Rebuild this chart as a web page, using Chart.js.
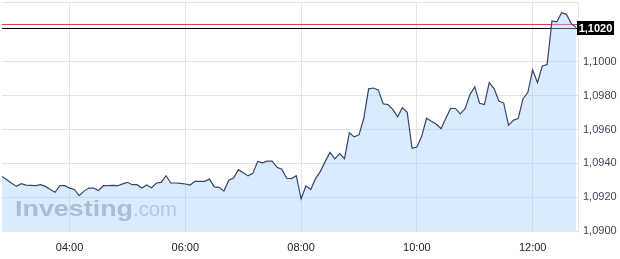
<!DOCTYPE html>
<html><head><meta charset="utf-8">
<script src="https://cdn.jsdelivr.net/npm/chart.js@4/dist/chart.umd.min.js"></script>
<style>html,body{margin:0;padding:0;background:#fff;}#wrap{width:620px;height:259px;position:relative}</style>
</head><body><div id="wrap"><canvas id="c" width="620" height="259"></canvas></div>
<script>
const times = [
 '02:50','02:55',
 '03:00','03:05','03:10','03:15','03:20','03:25','03:30','03:35','03:40','03:45','03:50','03:55',
 '04:00','04:05','04:10','04:15','04:20','04:25','04:30','04:35','04:40','04:45','04:50','04:55',
 '05:00','05:05','05:10','05:15','05:20','05:25','05:30','05:35','05:40','05:45','05:50','05:55',
 '06:00','06:05','06:10','06:15','06:20','06:25','06:30','06:35','06:40','06:45','06:50','06:55',
 '07:00','07:05','07:10','07:15','07:20','07:25','07:30','07:35','07:40','07:45','07:50','07:55',
 '08:00','08:05','08:10','08:15','08:20','08:25','08:30','08:35','08:40','08:45','08:50','08:55',
 '09:00','09:05','09:10','09:15','09:20','09:25','09:30','09:35','09:40','09:45','09:50','09:55',
 '10:00','10:05','10:10','10:15','10:20','10:25','10:30','10:35','10:40','10:45','10:50','10:55',
 '11:00','11:05','11:10','11:15','11:20','11:25','11:30','11:35','11:40','11:45','11:50','11:55',
 '12:00','12:05','12:10','12:15','12:20','12:25','12:30','12:35','12:40','12:45'
];
const prices = [
 1.09323,1.09303,
 1.09282,1.09264,1.09280,1.09272,1.09270,1.09268,1.09274,1.09264,1.09246,1.09229,1.09268,1.09268,
 1.09254,1.09246,1.09209,1.09236,1.09254,1.09254,1.09239,1.09268,1.09268,1.09270,1.09268,1.09279,
 1.09288,1.09274,1.09274,1.09254,1.09272,1.09256,1.09284,1.09288,1.09327,1.09284,1.09284,1.09282,
 1.09278,1.09272,1.09294,1.09294,1.09294,1.09307,1.09261,1.09258,1.09236,1.09300,1.09314,1.09363,
 1.09344,1.09326,1.09341,1.09412,1.09403,1.09413,1.09414,1.09377,1.09365,1.09312,1.09310,1.09327,
 1.09190,1.09266,1.09245,1.09310,1.09353,1.09412,1.09465,1.09427,1.09458,1.09428,1.09581,1.09557,
 1.09569,1.09667,1.09841,1.09846,1.09835,1.09753,1.09748,1.09720,1.09676,1.09729,1.09702,1.09489,
 1.09497,1.09560,1.09667,1.09649,1.09633,1.09605,1.09667,1.09726,1.09725,1.09693,1.09724,1.09807,
 1.09853,1.09756,1.09748,1.09878,1.09843,1.09769,1.09757,1.09625,1.09655,1.09665,1.09783,1.09819,
 1.09953,1.09878,1.09976,1.09985,1.10243,1.10237,1.10292,1.10282,1.10227,1.10205
];
const xTickLabels = ['04:00','06:00','08:00','10:00','12:00'];
const yTickValues = [1.0900,1.0920,1.0940,1.0960,1.0980,1.1000,1.1020];
const currentPrice = 1.1020;
const refPrice = 1.10222;
const xRange = ['02:50','12:47'];
const yRange = [1.0900, 1.10355];

function toMin(s){const p=s.split(':').map(Number);return p[0]*60+p[1];}
function fmtPrice(v){return v.toFixed(4).replace('.',',');}

const gridColor = '#e2e4ea';
const points = times.map((t,i)=>({x:toMin(t), y:prices[i]}));

const overlay = {
  id:'overlay',
  beforeDatasetsDraw(chart){
    const {ctx, chartArea:a, scales:{y}} = chart;
    ctx.save();
    ctx.strokeStyle = gridColor; ctx.lineWidth = 1;
    ctx.beginPath(); ctx.moveTo(a.left, a.top+0.5); ctx.lineTo(a.right, a.top+0.5); ctx.stroke();
    // watermark
    ctx.textBaseline = 'alphabetic';
    ctx.font = 'bold 22px "Liberation Sans", Arial, sans-serif';
    let w = ctx.measureText('Investing').width;
    ctx.save(); ctx.translate(15, 216); ctx.scale(118/w, 1);
    ctx.fillStyle = 'rgb(172,180,192)';
    ctx.fillText('Investing', 0, 0); ctx.restore();
    ctx.font = '20px "Liberation Sans", Arial, sans-serif';
    w = ctx.measureText('.com').width;
    ctx.save(); ctx.translate(133, 216); ctx.scale(44/w, 1);
    ctx.fillStyle = 'rgb(190,198,210)';
    ctx.fillText('.com', 0, 0); ctx.restore();
    // reference lines
    const yr = Math.round(y.getPixelForValue(refPrice))+0.5;
    ctx.strokeStyle = '#e0403c'; ctx.lineWidth = 1;
    ctx.beginPath(); ctx.moveTo(a.left, yr); ctx.lineTo(a.right, yr); ctx.stroke();
    const yc = Math.round(y.getPixelForValue(currentPrice))+0.5;
    ctx.strokeStyle = '#000'; ctx.lineWidth = 1.2;
    ctx.beginPath(); ctx.moveTo(a.left, yc); ctx.lineTo(a.right, yc); ctx.stroke();
    ctx.restore();
  },
  afterDatasetsDraw(chart){
    const {ctx, chartArea:a, scales:{y}} = chart;
    ctx.save();
    const yc = Math.round(y.getPixelForValue(currentPrice));
    ctx.fillStyle = '#000';
    ctx.fillRect(a.right-1, yc-7, 37, 14);
    ctx.fillStyle = '#fff';
    ctx.font = 'bold 11px "Liberation Sans", Arial, sans-serif';
    ctx.textAlign = 'center'; ctx.textBaseline = 'middle';
    ctx.fillText(fmtPrice(currentPrice), a.right-1+18.5, yc+0.5);
    ctx.restore();
  }
};

new Chart(document.getElementById('c'), {
  type:'line',
  data:{datasets:[{
    data: points,
    borderColor:'#3a4466',
    borderWidth:1.2,
    backgroundColor:'rgba(160,205,250,0.4)',
    fill:'start',
    pointRadius:0,
    tension:0
  }]},
  options:{
    responsive:false,
    devicePixelRatio:1,
    animation:false,
    layout:{padding:{left:2, top:2, right:0, bottom:0}},
    plugins:{legend:{display:false}, tooltip:{enabled:false}},
    scales:{
      x:{
        type:'linear', position:'bottom',
        min: toMin(xRange[0]), max: toMin(xRange[1]),
        afterBuildTicks(s){ s.ticks = xTickLabels.map(l=>({value:toMin(l)})); },
        afterFit(s){ s.height = 28; s.paddingLeft = 0; s.paddingRight = 0; },
        ticks:{
          callback:(v,i)=>xTickLabels[i],
          color:'#222', font:{family:'"Liberation Sans", Arial, sans-serif', size:11},
          padding:10, maxRotation:0, autoSkip:false
        },
        grid:{color:gridColor, drawTicks:false},
        border:{display:true, color:gridColor}
      },
      y:{
        type:'linear', position:'right',
        min: yRange[0], max: yRange[1],
        afterBuildTicks(s){ s.ticks = yTickValues.map(v=>({value:v})); },
        afterFit(s){ s.width = 42; s.paddingTop = 0; s.paddingBottom = 0; },
        ticks:{
          callback:(v)=> Math.abs(v-currentPrice)<1e-6 ? '' : fmtPrice(v),
          color:'#3d4658', font:{family:'"Liberation Sans", Arial, sans-serif', size:11},
          padding:5
        },
        grid:{color:gridColor, drawTicks:false},
        border:{display:true, color:gridColor}
      }
    }
  },
  plugins:[overlay]
});
</script>
</body></html>
